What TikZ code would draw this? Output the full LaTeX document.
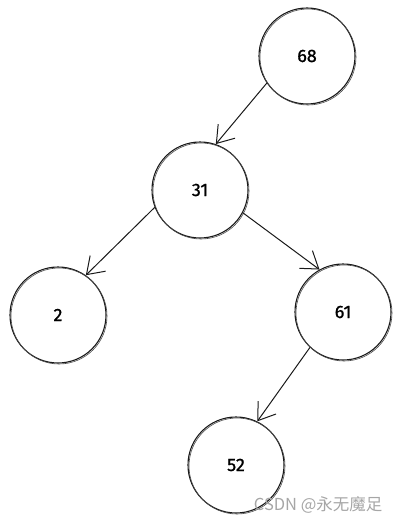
\documentclass[tikz,border=0pt]{standalone}
\usepackage{fontspec}
\setmainfont{Fira Sans}
\newfontfamily\numfont{Fira Sans}[FakeBold=1]
\newfontfamily\cjk{Noto Sans CJK SC}
\usetikzlibrary{arrows.meta}
\begin{document}
\begin{tikzpicture}[x=1pt,y=-1pt,
  tnode/.style={circle,draw=black!90,line width=1.1pt,minimum size=96pt,inner sep=0pt,
    font=\numfont\fontsize{18}{18}\selectfont,
    postaction={draw=black!70,line width=0.6pt,transform canvas={shift={(1pt,-1pt)}}}},
  edge/.style={draw=black!90,line width=1pt,-{Straight Barb[length=16pt,width=22pt,line width=1pt]}},
  wmark/.style={font=\cjk\fontsize{16.5}{16.5}\selectfont,text=black!35}]
\useasboundingbox (0,0) rectangle (401,522);
\node[tnode] (n68) at (307,56) {68};
\node[tnode] (n31) at (200,190) {31};
\node[tnode] (n2) at (58,315) {2};
\node[tnode] (n61) at (343,312) {61};
\node[tnode] (n52) at (236,465) {52};
\draw[edge] (n68.214) -- (n31.71);
\draw[edge] (n31.201) -- (n2.55);
\draw[edge] (n31.332) -- (n61.119);
\draw[edge] (n61.227) -- (n52.64);
\node[wmark,anchor=east] (wm) at (386,505) {CSDN @永无魔足};
\end{tikzpicture}
\end{document}
